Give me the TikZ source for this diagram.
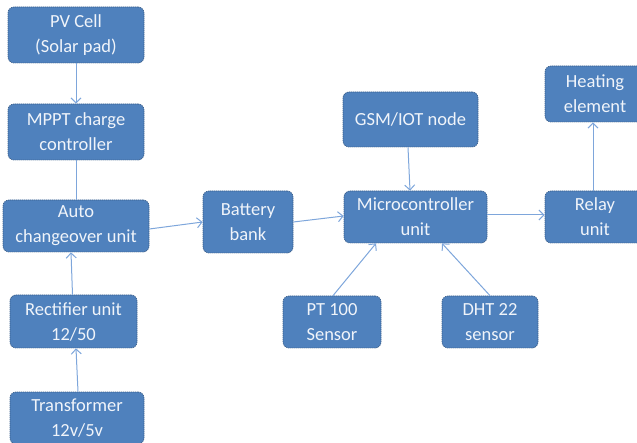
\documentclass[tikz,border=0pt]{standalone}
\usepackage{fontspec}
\setmainfont{Carlito}
\usetikzlibrary{arrows.meta}
\definecolor{boxfill}{RGB}{79,129,189}
\definecolor{boxedge}{RGB}{56,93,138}
\definecolor{wire}{RGB}{126,166,219}
\definecolor{label}{RGB}{240,244,250}
\tikzset{
  x=1pt, y=-1pt,
  blk/.style={draw=boxedge, fill=boxfill, rounded corners=6pt, line width=0.7pt,
    dash pattern=on 1.2pt off 0.8pt, text=label, align=center, inner sep=0pt,
    font=\fontsize{18.5}{25}\selectfont},
  flow/.style={draw=wire, line width=1pt, -{Straight Barb[length=5pt,width=10pt,line width=1pt]}},
  link/.style={draw=wire, line width=1pt}
}
% box with corners (x1,y1) and (x2,y2), in picture pixels
\newcommand{\blkbox}[6]{%
  \node[blk, minimum width=#4-#2, minimum height=#5-#3] (#1) at ({(#2+#4)/2},{(#3+#5)/2}) {#6};}
\begin{document}
\begin{tikzpicture}
\useasboundingbox (0,0) rectangle (637,443);
\blkbox{pv}{8}{7}{144}{63}{PV Cell\\(Solar pad)}
\blkbox{mppt}{8}{104}{144}{160}{MPPT charge\\controller}
\blkbox{auto}{3}{200}{149}{252}{Auto\\changeover unit}
\blkbox{rect}{10}{295}{137}{348}{Rectifier unit\\12/50}
\blkbox{trans}{10}{392}{144}{444}{Transformer\\12v/5v}
\blkbox{batt}{203}{191}{293}{253}{Battery\\bank}
\blkbox{gsm}{343}{92}{478}{147}{GSM/IOT node}
\blkbox{mcu}{344}{191}{487}{243}{Microcontroller\\unit}
\blkbox{pt}{283}{296}{381}{348}{PT 100\\Sensor}
\blkbox{dht}{442}{296}{538}{348}{DHT 22\\sensor}
\blkbox{heat}{545}{66}{645}{122}{Heating\\element}
\blkbox{relay}{545}{191}{645}{243}{Relay\\unit}

\draw[flow] (pv.south -| 76,0) -- (mppt.north -| 76,0);
\draw[link] (mppt.south -| 76,0) -- (auto.north -| 76,0);
\draw[flow] ([xshift=-1pt]rect.north) -- (auto.south -| 71,0);
\draw[flow] (trans.north -| 78,0) -- (rect.south -| 76,0);
\draw[flow] (auto.east |- 0,229) -- (batt.west |- 0,222);
\draw[flow] (batt.east |- 0,222) -- (mcu.west |- 0,216);
\draw[flow] (gsm.south -| 408,0) -- (mcu.north -| 410,0);
\draw[flow] (pt.north -| 333,0) -- (mcu.south -| 376,0);
\draw[flow] (dht.north -| 490,0) -- (mcu.south -| 442,0);
\draw[flow] (mcu.east |- 0,215) -- (relay.west |- 0,215);
\draw[flow] (relay.north -| 593,0) -- (heat.south -| 593,0);
\end{tikzpicture}
\end{document}
